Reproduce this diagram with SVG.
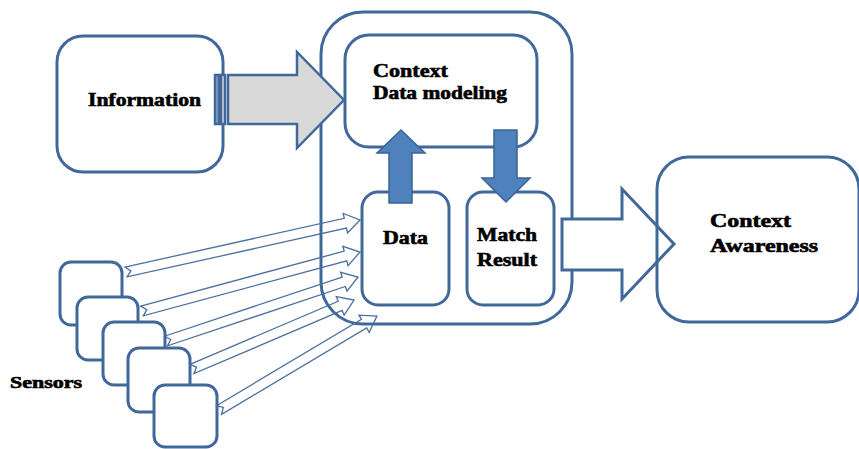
<svg xmlns="http://www.w3.org/2000/svg" width="859" height="449" viewBox="0 0 859 449">
<style>
.box{fill:#fff;stroke:#41689b;stroke-width:3}
.open{fill:none;stroke:#41689b;stroke-width:3}
.lbl{font-family:"Liberation Serif","Times New Roman",serif;font-weight:bold;font-size:18px;fill:#000;stroke:#000;stroke-width:0.6}
.thin{fill:none;stroke:#4a70a0;stroke-width:1.3;stroke-linejoin:miter}
.blue{fill:#4f81bd;stroke:#3a6494;stroke-width:1.5}
</style>
<rect width="859" height="449" fill="#fff"/>
<g id="sensor1"><rect class="box" x="60" y="262" width="62" height="63" rx="11"/></g>
<g id="sensor2"><rect class="box" x="77" y="297" width="61" height="63" rx="11"/></g>
<g id="sensor3"><rect class="box" x="103" y="322" width="62" height="63" rx="11"/></g>
<g id="sensor4"><rect class="box" x="128" y="348" width="62" height="64" rx="11"/></g>
<g id="sensor5"><rect class="box" x="154" y="385" width="63" height="62" rx="11"/></g>
<g id="sensors-label"><text class="lbl" x="10" y="388" style="font-size:16px" textLength="72" lengthAdjust="spacingAndGlyphs">Sensors</text></g>
<g id="information"><rect class="box" x="57" y="36" width="166" height="136" rx="26"/>
<text class="lbl" x="88" y="106" textLength="113" lengthAdjust="spacingAndGlyphs">Information</text></g>
<g id="container"><rect class="open" x="321" y="12" width="251" height="312" rx="42"/></g>
<g id="data-modeling"><rect class="box" x="345" y="35" width="192" height="112" rx="24"/>
<text class="lbl" x="373" y="77" textLength="75" lengthAdjust="spacingAndGlyphs">Context</text>
<text class="lbl" x="373" y="99" textLength="134" lengthAdjust="spacingAndGlyphs">Data modeling</text></g>
<g id="data"><rect class="box" x="362" y="192" width="87" height="113" rx="16"/>
<text class="lbl" x="383" y="244" textLength="45" lengthAdjust="spacingAndGlyphs">Data</text></g>
<g id="match-result"><rect class="box" x="467" y="192" width="87" height="113" rx="16"/>
<text class="lbl" x="477" y="241" textLength="60" lengthAdjust="spacingAndGlyphs">Match</text>
<text class="lbl" x="477" y="266" textLength="60" lengthAdjust="spacingAndGlyphs">Result</text></g>
<g id="connectors">
<g id="info-arrow" stroke="#41689b" stroke-width="2.5">
<rect x="215" y="75" width="4" height="49" fill="#8aa3c4"/>
<rect x="221" y="75" width="4" height="49" fill="#d9d9d9"/>
<polygon points="228,75 297,75 297,52 344,100 297,148 297,124 228,124" fill="#d9d9d9"/>
</g>
<g id="sensor-arrows">
<polygon class="thin" transform="translate(126,272) rotate(-12.53)" points="0,-5 224.7,-5 224.7,-10 239.7,0 224.7,10 224.7,5 0,5 5,0"/>
<polygon class="thin" transform="translate(142,311) rotate(-15.14)" points="0,-5 210.8,-5 210.8,-10 225.8,0 210.8,10 210.8,5 0,5 5,0"/>
<polygon class="thin" transform="translate(166,341) rotate(-18.43)" points="0,-5 187.4,-5 187.4,-10 202.4,0 187.4,10 187.4,5 0,5 5,0"/>
<polygon class="thin" transform="translate(192,369) rotate(-23.07)" points="0,-5 161.1,-5 161.1,-10 176.1,0 161.1,10 161.1,5 0,5 5,0"/>
<polygon class="thin" transform="translate(219,410) rotate(-30.75)" points="0,-5 168.8,-5 168.8,-10 183.8,0 168.8,10 168.8,5 0,5 5,0"/>
</g>
<polygon id="output-arrow" points="562,219 622,219 622,189 674,244 622,299 622,270 562,270" fill="#fff" stroke="#41689b" stroke-width="3"/>
<polygon id="up-arrow" class="blue" points="389,203 389,153 377,153 401,130 425,153 412,153 412,203"/>
<polygon id="down-arrow" class="blue" points="494,130 517,130 517,178 530,178 506,202 482,178 494,178"/>
</g>
<g id="context-awareness"><rect class="open" x="657" y="157" width="202" height="165" rx="32"/>
<text class="lbl" x="710" y="227" textLength="81" lengthAdjust="spacingAndGlyphs">Context</text>
<text class="lbl" x="710" y="252" textLength="108" lengthAdjust="spacingAndGlyphs">Awareness</text></g>
</svg>
